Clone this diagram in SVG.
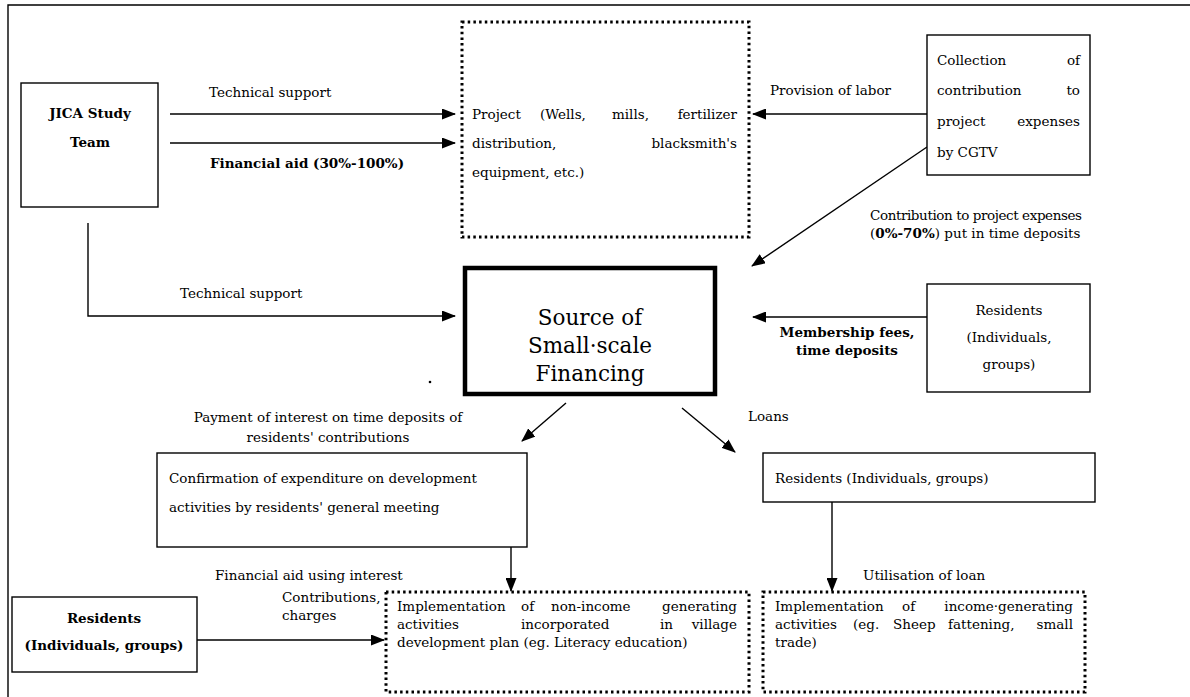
<svg xmlns="http://www.w3.org/2000/svg" width="1190" height="697" viewBox="0 0 1190 697">
  <defs>
    <marker id="arrow" markerUnits="userSpaceOnUse" markerWidth="14" markerHeight="11" refX="13" refY="5.5" orient="auto">
      <path d="M0,0 L14,5.5 L0,11 Z" fill="#000"/>
    </marker>
    <style>
      .t { font-family: "DejaVu Serif", "Liberation Serif", serif; font-size: 13.5px; fill: #000; }
      .b { font-weight: bold; }
      .mid { text-anchor: middle; }
      .end { text-anchor: end; }
      .big { font-size: 21.5px; }
      .box { fill: #fff; stroke: #000; stroke-width: 1.4; }
      .dotbox { fill: #fff; stroke: #000; stroke-width: 3; stroke-dasharray: 2.5 3.2; }
      .thick { fill: #fff; stroke: #000; stroke-width: 4.5; }
      .conn { fill: none; stroke: #000; stroke-width: 1.4; }
      .arr { marker-end: url(#arrow); }
    </style>
  </defs>
  <rect width="1190" height="697" fill="#fff"/>

  <!-- page frame -->
  <g id="frame">
    <path class="conn" d="M8,697 V5 H1190" stroke-width="2"/>
  </g>

  <!-- connectors -->
  <g id="connectors">
    <line class="conn arr" x1="170" y1="114" x2="455" y2="114"/>
    <line class="conn arr" x1="170" y1="143" x2="455" y2="143"/>
    <line class="conn arr" x1="927" y1="114" x2="753" y2="114"/>
    <line class="conn arr" x1="927" y1="147" x2="752" y2="266"/>
    <path class="conn arr" d="M88,223 V316 H455"/>
    <line class="conn arr" x1="927" y1="317" x2="753" y2="317"/>
    <line class="conn arr" x1="566" y1="403" x2="522" y2="441"/>
    <line class="conn arr" x1="682" y1="408" x2="735" y2="452"/>
    <line class="conn arr" x1="511" y1="547" x2="511" y2="591"/>
    <line class="conn arr" x1="832" y1="502" x2="832" y2="591"/>
    <line class="conn arr" x1="197" y1="640" x2="384" y2="640"/>
  </g>

  <!-- JICA Study Team -->
  <g id="jica">
    <rect class="box" x="21" y="83" width="137" height="124"/>
    <text class="t b mid" x="90" y="118">JICA Study</text>
    <text class="t b mid" x="90" y="147">Team</text>
  </g>

  <g id="label-tech1"><text class="t" x="209" y="97">Technical support</text></g>
  <g id="label-fin1"><text class="t b" x="210" y="168">Financial aid (30%-100%)</text></g>

  <!-- Project -->
  <g id="project">
    <rect class="dotbox" x="462" y="22" width="287" height="215"/>
    <text class="t" x="472" y="119">Project</text>
    <text class="t" x="540" y="119">(Wells,</text>
    <text class="t" x="612" y="119">mills,</text>
    <text class="t end" x="737" y="119">fertilizer</text>
    <text class="t" x="472" y="148">distribution,</text>
    <text class="t end" x="737" y="148">blacksmith's</text>
    <text class="t" x="472" y="177">equipment, etc.)</text>
  </g>

  <g id="label-labor"><text class="t" x="770" y="95">Provision of labor</text></g>

  <!-- Collection by CGTV -->
  <g id="collection">
    <rect class="box" x="927" y="35" width="163" height="140"/>
    <text class="t" x="937" y="65">Collection</text>
    <text class="t end" x="1080" y="65">of</text>
    <text class="t" x="937" y="95">contribution</text>
    <text class="t end" x="1080" y="95">to</text>
    <text class="t" x="937" y="126">project</text>
    <text class="t end" x="1080" y="126">expenses</text>
    <text class="t" x="937" y="157">by CGTV</text>
  </g>

  <g id="label-contrib">
    <text class="t" x="870" y="220" textLength="212" lengthAdjust="spacing">Contribution to project expenses</text>
    <text class="t" x="870" y="238">(<tspan class="b">0%-70%</tspan>) put in time deposits</text>
  </g>

  <!-- Source of Small-scale Financing -->
  <g id="source">
    <rect class="thick" x="465" y="268" width="250" height="126"/>
    <text class="t big mid" x="590" y="325">Source of</text>
    <text class="t big mid" x="590" y="353">Small·scale</text>
    <text class="t big mid" x="590" y="381">Financing</text>
  </g>

  <g id="label-tech2"><text class="t" x="180" y="298">Technical support</text></g>

  <g id="label-member">
    <text class="t b mid" x="847" y="337">Membership fees,</text>
    <text class="t b mid" x="847" y="355">time deposits</text>
  </g>

  <!-- Residents (membership) -->
  <g id="residents-members">
    <rect class="box" x="927" y="284" width="163" height="108"/>
    <text class="t mid" x="1009" y="315">Residents</text>
    <text class="t mid" x="1009" y="342">(Individuals,</text>
    <text class="t mid" x="1009" y="369">groups)</text>
  </g>

  <g id="stray-mark"><circle cx="430" cy="382" r="1.3" fill="#000"/></g>

  <g id="label-interest">
    <text class="t mid" x="328" y="422">Payment of interest on time deposits of</text>
    <text class="t mid" x="328" y="442">residents' contributions</text>
  </g>

  <g id="label-loans"><text class="t" x="748" y="421">Loans</text></g>

  <!-- Confirmation by general meeting -->
  <g id="confirmation">
    <rect class="box" x="157" y="453" width="370" height="94"/>
    <text class="t" x="169" y="483">Confirmation of expenditure on development</text>
    <text class="t" x="169" y="512">activities by residents' general meeting</text>
  </g>

  <!-- Residents (borrowers) -->
  <g id="residents-borrowers">
    <rect class="box" x="763" y="453" width="332" height="49"/>
    <text class="t" x="775" y="483">Residents (Individuals, groups)</text>
  </g>

  <g id="label-aid2"><text class="t" x="215" y="580">Financial aid using interest</text></g>
  <g id="label-util"><text class="t" x="863" y="580">Utilisation of loan</text></g>

  <g id="label-charges">
    <text class="t" x="282" y="602" font-size="13">Contributions,</text>
    <text class="t" x="282" y="620" font-size="13">charges</text>
  </g>

  <!-- Residents (contributors) -->
  <g id="residents-contrib">
    <rect class="box" x="12" y="597" width="185" height="75"/>
    <text class="t b mid" x="104" y="623" font-size="13">Residents</text>
    <text class="t b mid" x="104" y="650" font-size="13">(Individuals, groups)</text>
  </g>

  <!-- Non-income generating activities -->
  <g id="non-income">
    <rect class="dotbox" x="386" y="592" width="363" height="100"/>
    <text class="t" x="397" y="611">Implementation</text>
    <text class="t" x="521" y="611">of</text>
    <text class="t" x="551" y="611">non-income</text>
    <text class="t end" x="737" y="611">generating</text>
    <text class="t" x="397" y="629">activities</text>
    <text class="t" x="521" y="629">incorporated</text>
    <text class="t" x="660" y="629">in</text>
    <text class="t end" x="737" y="629">village</text>
    <text class="t" x="397" y="647">development plan (eg. Literacy education)</text>
  </g>

  <!-- Income generating activities -->
  <g id="income">
    <rect class="dotbox" x="763" y="592" width="322" height="100"/>
    <text class="t" x="775" y="611">Implementation</text>
    <text class="t" x="902" y="611">of</text>
    <text class="t end" x="1073" y="611">income·generating</text>
    <text class="t" x="775" y="629">activities</text>
    <text class="t" x="853" y="629">(eg.</text>
    <text class="t" x="893" y="629">Sheep</text>
    <text class="t" x="948" y="629">fattening,</text>
    <text class="t end" x="1073" y="629">small</text>
    <text class="t" x="775" y="647">trade)</text>
  </g>
</svg>
